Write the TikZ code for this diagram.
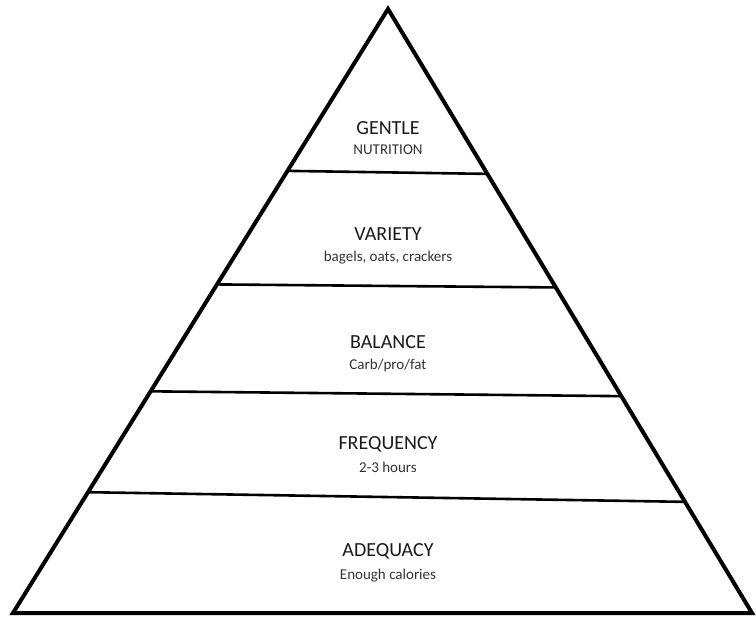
\documentclass[tikz,border=0pt]{standalone}
\usepackage{fontspec}
\setmainfont{Carlito}
\usetikzlibrary{positioning,calc}

\begin{document}
\begin{tikzpicture}[x=1pt, y=-1pt, node distance=8pt,
    edge/.style = {line width=4pt, line join=miter},
    tier/.style = {line width=2.6pt},
    title/.style = {font=\fontsize{20}{22}\selectfont, text=black!90, inner sep=1pt},
    sub/.style = {font=\fontsize{15}{17}\selectfont, text=black!80, inner sep=1pt}]
    \useasboundingbox (0,0) rectangle (756,620);
    % pyramid corners
    \coordinate (top) at (388,9);
    \coordinate (bl) at (13,613);
    \coordinate (br) at (752,613);
    \draw[edge] (top) -- (bl) -- (br) -- cycle;
    % tier dividers
    \coordinate (d1l) at ($(top)!0.268!(bl)$);
    \coordinate (d1r) at ($(top)!0.273!(br)$);
    \coordinate (d2l) at ($(top)!0.456!(bl)$);
    \coordinate (d2r) at ($(top)!0.461!(br)$);
    \coordinate (d3l) at ($(top)!0.633!(bl)$);
    \coordinate (d3r) at ($(top)!0.641!(br)$);
    \coordinate (d4l) at ($(top)!0.800!(bl)$);
    \coordinate (d4r) at ($(top)!0.816!(br)$);
    \draw[tier] (d1l) -- (d1r);
    \draw[tier] (d2l) -- (d2r);
    \draw[tier] (d3l) -- (d3r);
    \draw[tier] (d4l) -- (d4r);
    % labels
    \node[title] (t1) at (388,128) {GENTLE};
    \node[sub] (s1) [below=of t1] {NUTRITION};
    \node[title] (t2) at (388,234) {VARIETY};
    \node[sub] (s2) [below=of t2] {bagels, oats, crackers};
    \node[title] (t3) at (388,342) {BALANCE};
    \node[sub] (s3) [below=of t3] {Carb/pro/fat};
    \node[title] (t4) at (388,444) {FREQUENCY};
    \node[sub] (s4) [below=of t4] {2-3 hours};
    \node[title] (t5) at (388,551) {ADEQUACY};
    \node[sub] (s5) [below=of t5] {Enough calories};
\end{tikzpicture}
\end{document}
